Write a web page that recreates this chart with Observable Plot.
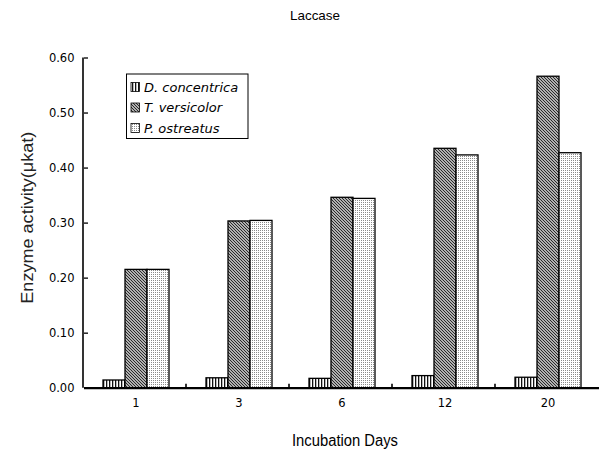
<!DOCTYPE html>
<html><head><meta charset="utf-8">
<script src="https://cdn.jsdelivr.net/npm/d3@7"></script>
<script src="https://cdn.jsdelivr.net/npm/@observablehq/plot@0.6"></script>
<style>body{margin:0;background:#fff} #chart{width:600px;height:450px}</style>
</head><body><div id="chart"></div>
<script>
const titleText = "Laccase";
const xTitle = "Incubation Days";
const yTitle = "Enzyme activity(μkat)";
const days = ["1", "3", "6", "12", "20"];
const species = ["D. concentrica", "T. versicolor", "P. ostreatus"];
const dConcentrica = [0.014, 0.018, 0.017, 0.022, 0.019];
const tVersicolor = [0.215, 0.303, 0.346, 0.435, 0.566];
const pOstreatus = [0.215, 0.304, 0.344, 0.423, 0.427];
const yTicks = [0, 0.1, 0.2, 0.3, 0.4, 0.5, 0.6];
const patterns = ["url(#pat-d)", "url(#pat-t)", "url(#pat-p)"];

const seriesValues = [dConcentrica, tVersicolor, pOstreatus];
const rows = days.flatMap((day, i) => species.map((sp, j) => ({day, species: sp, value: seriesValues[j][i]})));

const chart = Plot.plot({
  width: 600, height: 450,
  marginLeft: 83, marginRight: 0, marginTop: 57.5, marginBottom: 62.3,
  style: {background: "#fff", fontFamily: "'DejaVu Sans', sans-serif", fontSize: "11.5px", color: "#000", overflow: "visible"},
  fx: {domain: days, padding: 0, label: null, axis: "bottom", tickSize: 0, tickPadding: 11},
  x: {domain: species, paddingInner: 0, paddingOuter: 0.75, axis: null},
  y: {domain: [0, 0.6], label: null},
  color: {domain: species, range: patterns},
  marks: [
    Plot.barY(rows, {fx: "day", x: "species", y: "value", fill: "species", stroke: "#000", strokeWidth: 1.3}),
    Plot.axisY({ticks: yTicks, tickFormat: d3.format(".2f"), tickSize: 0, tickPadding: 10, label: null}),
    Plot.axisY({ticks: yTicks, text: null, tickSize: 4, dx: 4, strokeWidth: 1.3, label: null}),
    Plot.ruleY([0], {stroke: "#000", strokeWidth: 2.2})
  ]
});
document.getElementById("chart").appendChild(chart);

const svg = d3.select(chart);
const defs = svg.insert("defs", ":first-child");
const pd = defs.append("pattern").attr("id", "pat-d").attr("patternUnits", "userSpaceOnUse").attr("width", 3).attr("height", 3);
pd.append("rect").attr("width", 3).attr("height", 3).attr("fill", "#fff");
pd.append("rect").attr("width", 1.3).attr("height", 3).attr("fill", "#111");
const pt = defs.append("pattern").attr("id", "pat-t").attr("patternUnits", "userSpaceOnUse").attr("width", 3).attr("height", 3);
pt.append("rect").attr("width", 3).attr("height", 3).attr("fill", "#b0b0b0");
pt.append("path").attr("d", "M-1,-1L4,4M-1,2L1,4M2,-1L4,1").attr("stroke", "#2a2a2a").attr("stroke-width", 1);
const pp = defs.append("pattern").attr("id", "pat-p").attr("patternUnits", "userSpaceOnUse").attr("width", 2).attr("height", 2);
pp.append("rect").attr("width", 2).attr("height", 2).attr("fill", "#fff");
pp.append("rect").attr("width", 1).attr("height", 1).attr("fill", "#8a8a8a");

const ys = chart.scale("y");
const fxs = chart.scale("fx");
const y0 = ys.apply(0), yTop = ys.apply(0.6);
const xLeft = fxs.range[0];
// y axis line
svg.append("line").attr("x1", xLeft).attr("x2", xLeft).attr("y1", yTop).attr("y2", y0)
  .attr("stroke", "#000").attr("stroke-width", 1.6);
// boundary ticks between groups
days.slice(1).forEach((d, i) => {
  const bx = xLeft + (i + 1) * fxs.step;
  svg.append("line").attr("x1", bx).attr("x2", bx).attr("y1", y0).attr("y2", y0 - 4)
    .attr("stroke", "#000").attr("stroke-width", 1.6);
});

// titles
svg.append("text").text(titleText).attr("x", 315).attr("y", 15.7).attr("dy", "0.35em")
  .attr("text-anchor", "middle").attr("font-family", "'Liberation Sans', sans-serif").attr("font-size", 13.5)
  .attr("textLength", 50).attr("lengthAdjust", "spacingAndGlyphs").attr("fill", "#000");
svg.append("text").text(xTitle).attr("x", 345).attr("y", 440).attr("dy", "0.35em")
  .attr("text-anchor", "middle").attr("font-family", "'Liberation Sans', sans-serif").attr("font-size", 16)
  .attr("textLength", 106).attr("lengthAdjust", "spacingAndGlyphs").attr("fill", "#000");
svg.append("text").text(yTitle).attr("transform", "translate(27,217.7) rotate(-90)").attr("dy", "0.35em")
  .attr("text-anchor", "middle").attr("font-family", "'Liberation Sans', sans-serif").attr("font-size", 17)
  .attr("textLength", 172).attr("lengthAdjust", "spacingAndGlyphs").attr("fill", "#222");

// legend
const lg = svg.append("g");
lg.append("rect").attr("x", 126.5).attr("y", 74).attr("width", 121.5).attr("height", 64.5)
  .attr("fill", "#fff").attr("stroke", "#000").attr("stroke-width", 1);
const rowY = [87, 107.5, 128];
const colorScale = chart.scale("color");
species.forEach((sp, i) => {
  lg.append("rect").attr("x", 131).attr("y", rowY[i] - 4.5).attr("width", 8.5).attr("height", 9)
    .attr("fill", colorScale.apply(sp)).attr("stroke", "#000").attr("stroke-width", 0.8);
  lg.append("text").text(sp).attr("x", 144).attr("y", rowY[i]).attr("dy", "0.35em")
    .attr("text-anchor", "start")
    .attr("font-family", "'DejaVu Sans', sans-serif").attr("font-style", "italic").attr("font-size", 13)
    .attr("fill", "#000");
});
</script>
</body></html>
